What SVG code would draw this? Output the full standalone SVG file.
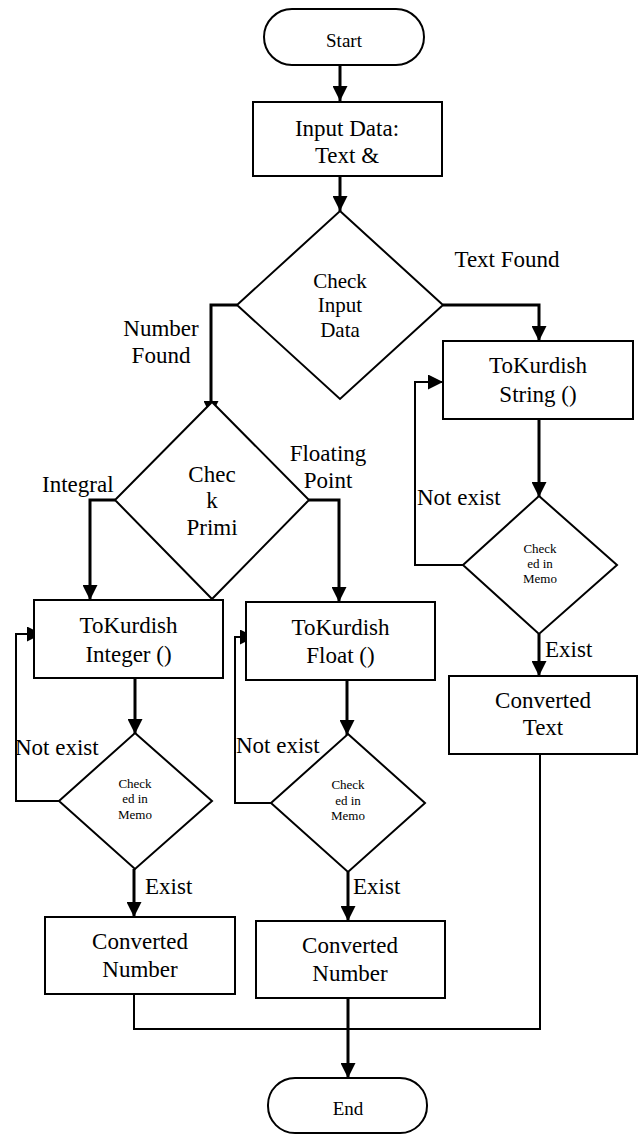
<svg xmlns="http://www.w3.org/2000/svg" width="641" height="1134" viewBox="0 0 641 1134">
<style>
.shape{fill:#fff;stroke:#000;stroke-width:2}
.arr{fill:none;stroke:#000;stroke-width:3}
.ln{fill:none;stroke:#000;stroke-width:2}
text{font-family:"Liberation Serif","Times New Roman",serif;fill:#000}
.t{font-size:23px;text-anchor:middle}
.l{font-size:23px}
.d{font-size:21px;text-anchor:middle}
.m{font-size:13px;text-anchor:middle}
.s{font-size:19px;text-anchor:middle}
</style>
<defs>
<marker id="ah" markerUnits="userSpaceOnUse" markerWidth="15" markerHeight="15" viewBox="0 0 15 15" refX="15" refY="7.5" orient="auto">
<path d="M0,0 L15,7.5 L0,15 z" fill="#000"/>
</marker>
</defs>
<g id="connectors">
<line class="arr" x1="340" y1="65" x2="340" y2="101" marker-end="url(#ah)"/>
<line class="arr" x1="340" y1="176" x2="340" y2="211" marker-end="url(#ah)"/>
<polyline class="arr" points="237,305 211,305 211,416" marker-end="url(#ah)"/>
<polyline class="arr" points="443,305 539,305 539,341" marker-end="url(#ah)"/>
<polyline class="arr" points="115,500 90,500 90,600" marker-end="url(#ah)"/>
<polyline class="arr" points="309,500 339,500 339,602" marker-end="url(#ah)"/>
<line class="arr" x1="135" y1="678" x2="135" y2="734" marker-end="url(#ah)"/>
<line class="arr" x1="347" y1="680" x2="347" y2="735" marker-end="url(#ah)"/>
<line class="arr" x1="539" y1="419" x2="539" y2="497" marker-end="url(#ah)"/>
<polyline class="ln" points="59,801 16,801 16,634 42,634" marker-end="url(#ah)"/>
<polyline class="ln" points="271,803 235,803 235,637 255,637" marker-end="url(#ah)"/>
<polyline class="ln" points="463,565 415,565 415,382 443,382" marker-end="url(#ah)"/>
<line class="arr" x1="134" y1="869" x2="134" y2="917" marker-end="url(#ah)"/>
<line class="arr" x1="348" y1="872" x2="348" y2="921" marker-end="url(#ah)"/>
<line class="arr" x1="539" y1="634" x2="539" y2="676" marker-end="url(#ah)"/>
<polyline class="ln" points="134,994 134,1029 540,1029 540,754"/>
<line class="arr" x1="348" y1="998" x2="348" y2="1078" marker-end="url(#ah)"/>
</g>
<g id="start">
<rect class="shape" x="264" y="9" width="160" height="56" rx="28"/>
<text class="s" x="344" y="47">Start</text>
</g>
<g id="input">
<rect class="shape" x="253" y="102" width="189" height="74"/>
<text class="t" x="347" y="136">Input Data:</text>
<text class="t" x="347" y="163">Text &amp;</text>
</g>
<g id="checkInput">
<polygon class="shape" points="340,211 443,305 340,399 237,305"/>
<text class="d" x="340" y="288">Check</text>
<text class="d" x="340" y="312">Input</text>
<text class="d" x="340" y="337">Data</text>
</g>
<g id="labels">
<text class="t" x="161" y="336">Number</text>
<text class="t" x="161" y="363">Found</text>
<text class="t" x="507" y="267">Text Found</text>
<text class="l" x="42" y="492">Integral</text>
<text class="t" x="328" y="461">Floating</text>
<text class="t" x="328" y="488">Point</text>
<text class="l" x="15" y="755">Not exist</text>
<text class="l" x="236" y="753">Not exist</text>
<text class="l" x="417" y="505">Not exist</text>
<text class="l" x="145" y="894">Exist</text>
<text class="l" x="353" y="894">Exist</text>
<text class="l" x="545" y="657">Exist</text>
</g>
<g id="checkPrimi">
<polygon class="shape" points="212,402 309,500 212,599 115,500"/>
<text class="t" x="212" y="482">Chec</text>
<text class="t" x="212" y="508">k</text>
<text class="t" x="212" y="535">Primi</text>
</g>
<g id="toInteger">
<rect class="shape" x="34" y="600" width="189" height="78"/>
<text class="t" x="128.5" y="633">ToKurdish</text>
<text class="t" x="128.5" y="662">Integer ()</text>
</g>
<g id="toFloat">
<rect class="shape" x="246" y="602" width="189" height="78"/>
<text class="t" x="340.5" y="635">ToKurdish</text>
<text class="t" x="340.5" y="663">Float ()</text>
</g>
<g id="toString">
<rect class="shape" x="443" y="341" width="190" height="78"/>
<text class="t" x="538" y="373">ToKurdish</text>
<text class="t" x="538" y="402">String ()</text>
</g>
<g id="memoInt">
<polygon class="shape" points="135,733 212,801 135,869 59,801"/>
<text class="m" x="135" y="788">Check</text>
<text class="m" x="135" y="803">ed in</text>
<text class="m" x="135" y="819">Memo</text>
</g>
<g id="memoFloat">
<polygon class="shape" points="348,734 425,803 348,872 271,803"/>
<text class="m" x="348" y="789">Check</text>
<text class="m" x="348" y="805">ed in</text>
<text class="m" x="348" y="820">Memo</text>
</g>
<g id="memoString">
<polygon class="shape" points="539,496 617,565 539,634 463,565"/>
<text class="m" x="540" y="553">Check</text>
<text class="m" x="540" y="568">ed in</text>
<text class="m" x="540" y="583">Memo</text>
</g>
<g id="convNumInt">
<rect class="shape" x="45" y="917" width="190" height="77"/>
<text class="t" x="140" y="949">Converted</text>
<text class="t" x="140" y="977">Number</text>
</g>
<g id="convNumFloat">
<rect class="shape" x="256" y="921" width="189" height="77"/>
<text class="t" x="350" y="953">Converted</text>
<text class="t" x="350" y="981">Number</text>
</g>
<g id="convText">
<rect class="shape" x="449" y="676" width="188" height="78"/>
<text class="t" x="543" y="708">Converted</text>
<text class="t" x="543" y="735">Text</text>
</g>
<g id="end">
<rect class="shape" x="268" y="1078" width="159" height="55" rx="27"/>
<text class="s" x="348" y="1115">End</text>
</g>
</svg>
